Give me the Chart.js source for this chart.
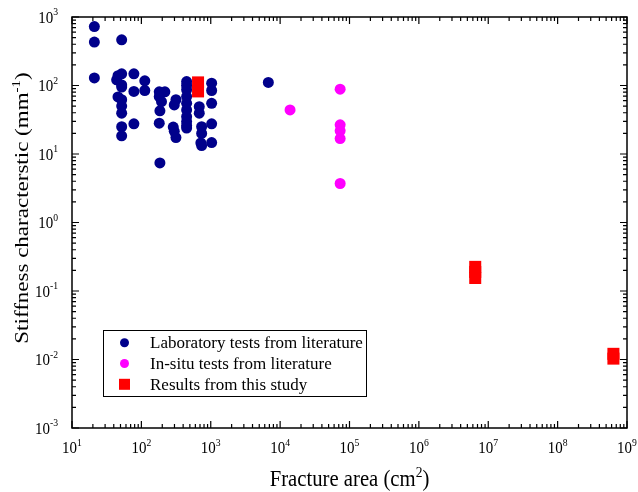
<!DOCTYPE html>
<html>
<head>
<meta charset="utf-8">
<script src="https://cdn.jsdelivr.net/npm/chart.js@4.4.1/dist/chart.umd.min.js"></script>
<style>
  html, body { margin: 0; padding: 0; background: #fff; }
  #wrap { width: 638px; height: 492px; position: relative; }
</style>
</head>
<body>
<div id="wrap"><canvas id="stiffCanvas"></canvas></div>
<script>
// Laboratory tests from literature
var labArea = [21, 21, 21, 52, 46, 52, 44, 52, 52, 46, 52, 52, 52, 52, 52,
    78, 78, 78, 112, 112, 181, 218, 181, 195, 185, 181, 185,
    315, 298, 288, 298, 315,
    449, 449, 449, 449, 449, 449, 449, 449, 449, 449,
    683, 683, 739, 739, 739, 720,
    1030, 1030, 1030, 1030, 1030, 6760];
var labStiff = [726, 430, 129, 464, 139, 148, 121, 102, 95, 68, 62, 50, 39.5, 25, 18.4,
    148, 82, 27.6, 117, 84.5, 81, 81, 69, 58, 42.7, 28.2, 7.4,
    62, 52, 24.7, 21.4, 17.4,
    114, 100, 86.5, 69, 55, 44, 35, 29.8, 26, 23.9,
    49, 39.5, 25, 20, 13.3, 14.5,
    108, 84.5, 55, 27.6, 14.7, 111];

// In-situ tests from literature
var situArea = [13900, 73300, 73300, 73300, 73300, 73300];
var situStiff = [44, 88.5, 26.7, 21.8, 16.8, 3.71];

// Results from this study
var studyArea = [656, 656, 6.49e6, 6.49e6, 6.49e6, 6.37e8, 6.37e8];
var studyStiff = [111, 82, 0.225, 0.19, 0.155, 0.0121, 0.0103];

var xDecades = [1, 2, 3, 4, 5, 6, 7, 8, 9];
var yDecades = [-3, -2, -1, 0, 1, 2, 3];

var seriesNames = ['Laboratory tests from literature', 'In-situ tests from literature', 'Results from this study'];
var seriesColors = ['#00008B', '#FF00FF', '#FF0000'];

function toPoints(xs, ys) {
    var pts = [];
    for (var i = 0; i < xs.length; i++) pts.push({ x: xs[i], y: ys[i] });
    return pts;
}

var SERIF = '"Liberation Serif", "Times New Roman", serif';
var SQUEEZE = 0.88;   // the reference text looks a bit narrow

// draw a run of [text, size, rise] pieces starting at x0 (baseline y), squeezed sideways
function drawRuns(ctx, runs, x0, y, sx) {
    var x = x0;
    runs.forEach(function (r) {
        ctx.font = r[1] + 'px ' + SERIF;
        ctx.save();
        ctx.translate(x, y - r[2]);
        ctx.scale(sx, 1);
        ctx.fillText(r[0], 0, 0);
        ctx.restore();
        x += ctx.measureText(r[0]).width * sx;
    });
}
function runsWidth(ctx, runs, sx) {
    var w = 0;
    runs.forEach(function (r) {
        ctx.font = r[1] + 'px ' + SERIF;
        w += ctx.measureText(r[0]).width * sx;
    });
    return w;
}

function powRuns(exp, size) {
    return [['10', size, 0], [String(exp), Math.round(size * 0.66), size * 0.42]];
}

var framePlugin = {
    id: 'framePlugin',
    afterDraw: function (chart) {
        var ctx = chart.ctx;
        var a = chart.chartArea;
        var xs = chart.scales.x, ys = chart.scales.y;
        ctx.save();
        ctx.strokeStyle = '#000';
        ctx.fillStyle = '#000';
        ctx.lineWidth = 1.5;
        ctx.strokeRect(a.left, a.top, a.right - a.left, a.bottom - a.top);

        ctx.lineWidth = 1.2;
        ctx.beginPath();
        // minor and major ticks on all four sides, pointing inward
        xDecades.forEach(function (d, i) {
            for (var k = 1; k <= 9; k++) {
                if (k > 1 && i === xDecades.length - 1) break;
                var px = xs.getPixelForValue(k * Math.pow(10, d));
                var len = k === 1 ? 7 : 4;
                ctx.moveTo(px, a.bottom); ctx.lineTo(px, a.bottom - len);
                ctx.moveTo(px, a.top); ctx.lineTo(px, a.top + len);
            }
        });
        yDecades.forEach(function (d, i) {
            for (var k = 1; k <= 9; k++) {
                if (k > 1 && i === yDecades.length - 1) break;
                var py = ys.getPixelForValue(k * Math.pow(10, d));
                var len = k === 1 ? 7 : 4;
                ctx.moveTo(a.left, py); ctx.lineTo(a.left + len, py);
                ctx.moveTo(a.right, py); ctx.lineTo(a.right - len, py);
            }
        });
        ctx.stroke();

        ctx.textAlign = 'left';
        ctx.textBaseline = 'alphabetic';

        // tick labels
        xDecades.forEach(function (d) {
            var runs = powRuns(d, 17);
            var w = runsWidth(ctx, runs, SQUEEZE);
            drawRuns(ctx, runs, xs.getPixelForValue(Math.pow(10, d)) - w / 2, a.bottom + 25, SQUEEZE);
        });
        yDecades.forEach(function (d) {
            var runs = powRuns(d < 0 ? '-' + (-d) : d, 17);
            var w = runsWidth(ctx, runs, SQUEEZE);
            drawRuns(ctx, runs, a.left - 14 - w, ys.getPixelForValue(Math.pow(10, d)) + 5.5, SQUEEZE);
        });

        // x axis title
        var xt = [['Fracture area (cm', 23, 0], ['2', 15, 9], [')', 23, 0]];
        var xw = runsWidth(ctx, xt, 0.9);
        drawRuns(ctx, xt, (a.left + a.right) / 2 - xw / 2, 486, 0.9);

        // y axis title, rotated; the squeeze acts across the letters
        ctx.save();
        ctx.translate(28, 208);
        ctx.scale(0.86, 1);
        ctx.rotate(-Math.PI / 2);
        var yt = [['Stiffness characterstic (mm', 23, 0], ['-1', 15, 9], [')', 23, 0]];
        var yw = runsWidth(ctx, yt, 1);
        drawRuns(ctx, yt, -yw / 2, 0, 1);
        ctx.restore();

        // legend box
        var lx = 103.5, ly = 330.5, lw = 263, lh = 66;
        ctx.fillStyle = '#fff';
        ctx.fillRect(lx, ly, lw, lh);
        ctx.strokeStyle = '#000';
        ctx.lineWidth = 1;
        ctx.strokeRect(lx, ly, lw, lh);
        ctx.font = '17px ' + SERIF;
        for (var i = 0; i < seriesNames.length; i++) {
            var ey = 342.7 + i * 20.8;
            ctx.fillStyle = seriesColors[i];
            ctx.beginPath();
            if (i < 2) {
                ctx.arc(124.5, ey, 4.5, 0, Math.PI * 2);
            } else {
                ctx.rect(119, ey - 5.5, 11, 11);
            }
            ctx.fill();
            ctx.fillStyle = '#000';
            ctx.fillText(seriesNames[i], 150, ey + 5.5);
        }
        ctx.restore();
    }
};

var ctx = document.getElementById('stiffCanvas').getContext('2d');
var stiffChart = new Chart(ctx, {
    type: 'scatter',
    data: {
        datasets: [
            {
                label: seriesNames[0],
                data: toPoints(labArea, labStiff),
                backgroundColor: seriesColors[0],
                borderWidth: 0,
                pointRadius: 5.5,
                pointStyle: 'circle',
                order: 3
            },
            {
                label: seriesNames[1],
                data: toPoints(situArea, situStiff),
                backgroundColor: seriesColors[1],
                borderWidth: 0,
                pointRadius: 5.5,
                pointStyle: 'circle',
                order: 2
            },
            {
                label: seriesNames[2],
                data: toPoints(studyArea, studyStiff),
                backgroundColor: seriesColors[2],
                borderWidth: 0,
                pointRadius: 8.5,
                pointStyle: 'rect',
                order: 1
            }
        ]
    },
    options: {
        responsive: true,
        maintainAspectRatio: false,
        animation: false,
        layout: { padding: { left: 72, right: 11, top: 17, bottom: 64 } },
        plugins: {
            legend: { display: false },
            tooltip: { enabled: false }
        },
        scales: {
            x: { type: 'logarithmic', min: 10, max: 1e9, display: false },
            y: { type: 'logarithmic', min: 1e-3, max: 1e3, display: false }
        }
    },
    plugins: [framePlugin]
});
</script>
</body>
</html>
